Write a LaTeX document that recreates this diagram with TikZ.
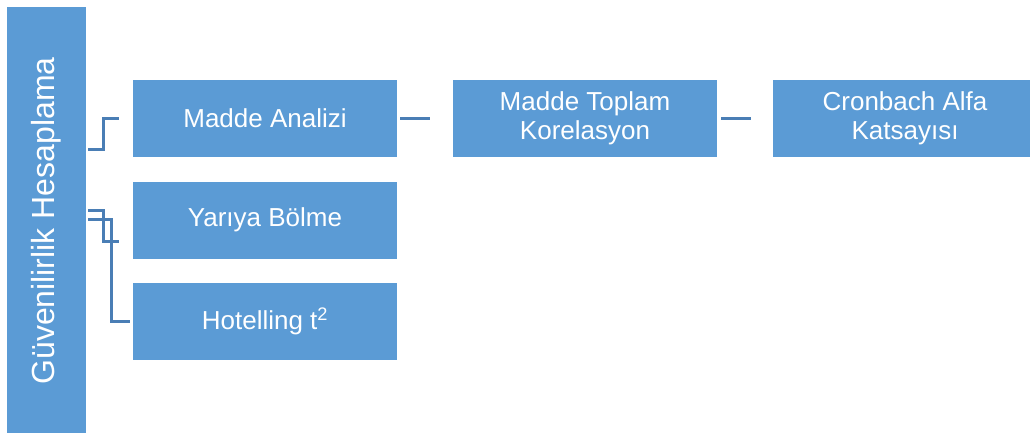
\documentclass[tikz,border=0pt]{standalone}
\usepackage{fontspec}
\setmainfont{Liberation Sans}
\definecolor{boxblue}{HTML}{5B9BD5}
\definecolor{lineblue}{HTML}{4A7EB5}
\tikzset{
  box/.style={fill=boxblue, text=white, inner sep=0pt, align=center,
    minimum width=264pt, minimum height=77pt,
    font=\fontsize{26}{29.5}\selectfont},
  conn/.style={draw=lineblue, line width=3pt}
}
\begin{document}
\begin{tikzpicture}[x=1pt,y=-1pt]
      \useasboundingbox (0,0) rectangle (1030,432);
      \draw
        (46.5,221) node[fill=boxblue, minimum width=79pt, minimum height=428pt, inner sep=0pt] (guv){}
        (265,118.5) node[box] (ma){Madde Analizi}
        (265,220) node[box] (yb){Yarıya Bölme}
        (265,321.5) node[box] (ho){Hotelling t\textsuperscript{2}}
        (585,118.5) node[box] (mt){Madde Toplam\\Korelasyon}
        (905,118.5) node[box] (cr){Cronbach Alfa\\Katsayısı};
      \node[rotate=90, text=white, font=\fontsize{32}{36}\selectfont] (guvtext) at (guv.center) {Güvenilirlik Hesaplama};
      \begin{scope}[conn]
        \draw ([xshift=2pt]guv.east |- 0,149) -- (103,149) |- ([xshift=-14pt]ma.west |- 0,118);
        \draw ([xshift=2pt]guv.east |- 0,210) -- (103,210) |- ([xshift=-14pt]yb.west |- 0,241);
        \draw ([xshift=2pt]guv.east |- 0,219) -- (111,219) |- ([xshift=-3pt]ho.west |- 0,321);
        \draw ([xshift=3pt]ma.east |- 0,118) -- ([xshift=-23pt]mt.west |- 0,118);
        \draw ([xshift=4pt]mt.east |- 0,118) -- ([xshift=-22pt]cr.west |- 0,118);
      \end{scope}
    \end{tikzpicture}
\end{document}
